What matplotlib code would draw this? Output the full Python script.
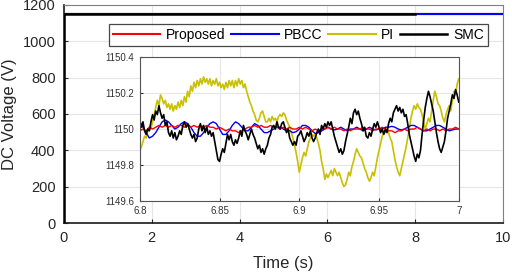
import numpy as np
import matplotlib
matplotlib.use("Agg")
import matplotlib.pyplot as plt

plt.rcParams['font.family'] = ['Liberation Sans', 'DejaVu Sans']

# ---------------- data ----------------
series_names = ["Proposed", "PBCC", "PI", "SMC"]
series_colors = ["#ff0000", "#0000ff", "#c8c000", "#000000"]

# main plot (full simulation): step to 1150 V at t=0
main_t = [0.0, 0.0, 10.0]
main_v = [0.0, 1150.0, 1150.0]
smc_main_t = [0.0, 0.0, 8.0]
smc_main_v = [0.0, 1150.0, 1150.0]

main_xticks = [0, 2, 4, 6, 8, 10]
main_yticks = [0, 200, 400, 600, 800, 1000, 1200]

# zoomed window 6.8 - 7.0 s
t_start, t_end = 6.8, 7.0

pi_zoom = [
    1149.88, 1149.90, 1149.93, 1149.96, 1149.95, 1149.99, 1150.01, 1150.00, 1150.04, 1150.08,
    1150.12, 1150.16, 1150.13, 1150.19, 1150.17, 1150.14, 1150.16, 1150.12, 1150.14, 1150.11,
    1150.14, 1150.10, 1150.13, 1150.11, 1150.15, 1150.12, 1150.16, 1150.13, 1150.18, 1150.15,
    1150.21, 1150.18, 1150.24, 1150.21, 1150.26, 1150.23, 1150.27, 1150.24, 1150.28, 1150.25,
    1150.29, 1150.26, 1150.28, 1150.25, 1150.28, 1150.24, 1150.27, 1150.25, 1150.28, 1150.24,
    1150.26, 1150.23, 1150.25, 1150.22, 1150.26, 1150.23, 1150.27, 1150.24, 1150.27, 1150.23,
    1150.27, 1150.24, 1150.28, 1150.25, 1150.27, 1150.23, 1150.25, 1150.21, 1150.18, 1150.15,
    1150.13, 1150.10, 1150.08, 1150.05, 1150.04, 1150.06, 1150.09, 1150.10, 1150.07, 1150.04,
    1150.04, 1150.06, 1150.04, 1150.07, 1150.05, 1150.06, 1150.04, 1150.07, 1150.08, 1150.07,
    1150.09, 1150.08, 1150.05, 1150.03, 1150.01, 1149.98, 1149.95, 1149.91, 1149.87, 1149.82,
    1149.76, 1149.80, 1149.84, 1149.87, 1149.85, 1149.89, 1149.93, 1149.95, 1149.97, 1149.96,
    1149.97, 1149.95, 1149.92, 1149.88, 1149.82, 1149.78, 1149.72, 1149.75, 1149.73, 1149.75,
    1149.77, 1149.74, 1149.78, 1149.76, 1149.74, 1149.76, 1149.73, 1149.70, 1149.68, 1149.69,
    1149.72, 1149.76, 1149.74, 1149.79, 1149.82, 1149.86, 1149.89, 1149.87, 1149.85, 1149.84,
    1149.81, 1149.78, 1149.76, 1149.73, 1149.71, 1149.73, 1149.76, 1149.74, 1149.79, 1149.84,
    1149.88, 1149.92, 1149.96, 1149.99, 1149.98, 1150.00, 1149.98, 1149.95, 1149.93, 1149.88,
    1149.83, 1149.79, 1149.76, 1149.74, 1149.78, 1149.82, 1149.86, 1149.90, 1149.95, 1150.00,
    1150.06, 1150.10, 1150.13, 1150.11, 1150.14, 1150.12, 1150.11, 1150.08, 1150.04, 1150.00,
    1150.03, 1150.06, 1150.04, 1150.10, 1150.16, 1150.21, 1150.18, 1150.14, 1150.13, 1150.10,
    1150.06, 1150.04, 1150.08, 1150.11, 1150.13, 1150.10, 1150.16, 1150.21, 1150.19, 1150.25,
    1150.28,
]

smc_zoom = [
    1150.05, 1150.01, 1150.04, 1149.99, 1149.97, 1150.00, 1149.99, 1150.04, 1150.08, 1150.05,
    1150.10, 1150.08, 1150.13, 1150.09, 1150.06, 1150.08, 1150.02, 1150.04, 1149.98, 1149.96,
    1149.99, 1149.95, 1149.98, 1149.94, 1149.96, 1149.99, 1149.97, 1150.02, 1150.04, 1150.01,
    1150.03, 1150.00, 1149.97, 1149.95, 1149.97, 1149.93, 1149.95, 1150.00, 1150.03, 1149.99,
    1150.02, 1149.98, 1150.01, 1149.97, 1149.99, 1149.96, 1149.98, 1149.93, 1149.88, 1149.83,
    1149.82, 1149.86, 1149.89, 1149.87, 1149.92, 1149.97, 1149.94, 1149.97, 1149.93, 1149.91,
    1149.94, 1149.92, 1149.95, 1149.99, 1149.96, 1150.02, 1149.99, 1149.97, 1149.94, 1149.97,
    1150.00, 1149.97, 1149.95, 1149.92, 1149.89, 1149.91, 1149.87, 1149.89, 1149.86, 1149.89,
    1149.91, 1149.95, 1149.97, 1150.01, 1150.02, 1150.00, 1150.04, 1150.01, 1150.00, 1150.03,
    1150.04, 1150.01, 1149.98, 1150.00, 1149.95, 1149.93, 1149.91, 1149.93, 1149.91, 1149.96,
    1149.97, 1149.99, 1149.96, 1149.93, 1149.95, 1149.98, 1149.96, 1149.99, 1149.95, 1149.93,
    1149.95, 1149.98, 1150.00, 1149.97, 1150.02, 1150.00, 1150.03, 1150.01, 1150.04, 1150.02,
    1150.04, 1150.00, 1149.96, 1149.93, 1149.90, 1149.87, 1149.89, 1149.86, 1149.88, 1149.93,
    1149.97, 1150.01, 1150.06, 1150.03, 1150.09, 1150.11, 1150.08, 1150.10, 1150.06, 1150.03,
    1149.99, 1150.01, 1149.96, 1149.95, 1149.98, 1149.96, 1150.00, 1150.03, 1150.01, 1150.04,
    1150.01, 1149.98, 1150.00, 1149.97, 1150.00, 1149.98, 1150.03, 1150.06, 1150.04, 1150.09,
    1150.11, 1150.13, 1150.10, 1150.12, 1150.09, 1150.11, 1150.07, 1150.08, 1150.03, 1149.97,
    1149.93, 1149.89, 1149.85, 1149.82, 1149.86, 1149.84, 1149.88, 1149.97, 1150.05, 1150.12,
    1150.17, 1150.21, 1150.18, 1150.14, 1150.10, 1150.04, 1149.98, 1149.93, 1149.89, 1149.87,
    1149.90, 1149.93, 1149.99, 1150.06, 1150.10, 1150.14, 1150.19, 1150.17, 1150.22, 1150.19,
    1150.15,
]

proposed_zoom = [
    1149.99, 1150.00, 1149.99, 1150.01, 1150.00, 1150.01, 1150.02, 1150.01, 1150.02, 1150.01,
    1150.02, 1150.01, 1150.02, 1150.02, 1150.01, 1150.02, 1150.01, 1150.02, 1150.01, 1150.02,
    1150.01, 1150.02, 1150.01, 1150.01, 1150.00, 1150.01, 1150.00, 1149.99, 1150.00, 1149.99,
    1149.99, 1149.98, 1149.99, 1150.00, 1150.01, 1150.01, 1150.02, 1150.01, 1150.02, 1150.01,
    1150.01, 1150.02, 1150.01, 1150.01, 1150.00, 1150.01, 1150.00, 1150.01, 1150.00, 1150.00,
    1150.01, 1150.00, 1150.01, 1150.00, 1149.99, 1150.00, 1149.99, 1150.00, 1150.00, 1150.01,
    1150.00, 1150.01, 1150.00, 1150.00, 1149.99, 1150.00, 1149.99, 1150.00, 1150.00, 1150.00,
    1150.01, 1150.00, 1150.00, 1149.99, 1150.00, 1150.00, 1150.01, 1150.00, 1149.99, 1149.99,
    1149.98, 1149.99, 1149.99, 1150.00, 1149.99, 1150.00, 1150.00, 1150.01, 1150.00, 1149.99,
    1150.00, 1149.99, 1150.00, 1150.00, 1149.99, 1150.00, 1149.99, 1150.00, 1150.00, 1150.01,
    1150.00,
]

pbcc_zoom = [
    1150.04, 1150.01, 1149.98, 1149.95, 1149.96, 1149.98, 1150.01, 1150.04, 1150.05, 1150.04,
    1150.02, 1150.00, 1150.01, 1150.03, 1150.04, 1150.03, 1150.01, 1149.98, 1149.96, 1149.96,
    1149.98, 1150.01, 1150.03, 1150.04, 1150.03, 1150.00, 1149.97, 1149.97, 1149.99, 1150.02,
    1150.04, 1150.03, 1150.01, 1149.99, 1149.99, 1150.01, 1150.03, 1150.02, 1150.00, 1149.98,
    1149.98, 1149.99, 1150.00, 1150.01, 1150.01, 1150.00, 1149.99, 1149.99, 1149.98, 1149.985,
    1150.00, 1150.02, 1150.02, 1150.01, 1149.99, 1149.975, 1149.98, 1149.99, 1150.00, 1150.01,
    1150.00, 1149.995, 1150.00, 1150.01, 1150.00, 1149.99, 1150.00, 1150.00, 1150.01, 1150.00,
    1149.99, 1150.00, 1150.01, 1150.00, 1149.995, 1150.00, 1150.00, 1150.01, 1150.01, 1150.015,
    1150.01, 1150.00, 1149.995, 1150.00, 1150.01, 1150.02, 1150.02, 1150.01, 1150.00, 1149.99,
    1149.99, 1150.00, 1150.01, 1150.02, 1150.02, 1150.01, 1150.00, 1149.99, 1149.995, 1150.00,
    1150.00,
]

zoom_xticks = [6.8, 6.85, 6.9, 6.95, 7.0]
zoom_xlabels = ["6.8", "6.85", "6.9", "6.95", "7"]
zoom_yticks = [1149.6, 1149.8, 1150.0, 1150.2, 1150.4]
zoom_ylabels = ["1149.6", "1149.8", "1150", "1150.2", "1150.4"]

# ---------------- figure ----------------
fig = plt.figure(figsize=(5.12, 2.76), dpi=100)
ax = fig.add_axes([0.125, 0.192, 0.857, 0.790])

grid_c = "#e6e6e6"
l_prop, = ax.plot(main_t, main_v, color=series_colors[0], lw=1.5, zorder=2)
l_pi, = ax.plot(main_t, main_v, color=series_colors[2], lw=1.5, zorder=3)
l_pbcc, = ax.plot(main_t, main_v, color=series_colors[1], lw=1.5, zorder=4)
l_smc, = ax.plot(smc_main_t, smc_main_v, color=series_colors[3], lw=1.8, zorder=5)
ax.set_xlim(0, 10)
ax.set_ylim(0, 1200)
ax.set_xticks(main_xticks)
ax.set_yticks(main_yticks)
ax.grid(True, color=grid_c, lw=0.8)
ax.set_axisbelow(True)
ax.tick_params(direction="in", length=3, labelsize=10.5, colors="#262626", pad=6)
for s in ["left", "bottom"]:
    ax.spines[s].set_color("#1a1a1a")
    ax.spines[s].set_linewidth(1.2)
for s in ["top", "right"]:
    ax.spines[s].set_color("#808080")
    ax.spines[s].set_linewidth(0.8)
ax.set_xlabel("Time (s)", fontsize=12, color="#262626", labelpad=8)
ax.set_ylabel("DC Voltage (V)", fontsize=12, color="#262626", labelpad=4)

leg = fig.legend(handles=[l_prop, l_pbcc, l_pi, l_smc], labels=series_names, ncol=4,
                 loc="lower left", bbox_to_anchor=(0.213, 0.833, 0.740, 0.091),
                 mode="expand", fontsize=10, frameon=True, fancybox=False,
                 handlelength=3.4, handletextpad=0.4, columnspacing=0.7,
                 borderpad=0.3, borderaxespad=0)
leg.get_frame().set_edgecolor("#1a1a1a")
leg.get_frame().set_linewidth(0.9)

# inset
axi = fig.add_axes([0.273, 0.272, 0.623, 0.521])
tz = np.linspace(t_start, t_end, len(pi_zoom))
tz2 = np.linspace(t_start, t_end, len(proposed_zoom))
axi.plot(tz, pi_zoom, color=series_colors[2], lw=1.2)
axi.plot(tz2, pbcc_zoom, color=series_colors[1], lw=1.0)
axi.plot(tz2, proposed_zoom, color=series_colors[0], lw=1.0)
axi.plot(tz, smc_zoom, color=series_colors[3], lw=1.2)
axi.set_xlim(t_start, t_end)
axi.set_ylim(1149.6, 1150.4)
axi.set_xticks(zoom_xticks)
axi.set_xticklabels(zoom_xlabels)
axi.set_yticks(zoom_yticks)
axi.set_yticklabels(zoom_ylabels)
axi.grid(True, color=grid_c, lw=0.8)
axi.set_axisbelow(True)
axi.tick_params(direction="in", length=2.5, labelsize=7, colors="#333333", pad=4)
for s in axi.spines.values():
    s.set_color("#555555")
    s.set_linewidth(0.8)

fig.savefig("out.png", dpi=100)
